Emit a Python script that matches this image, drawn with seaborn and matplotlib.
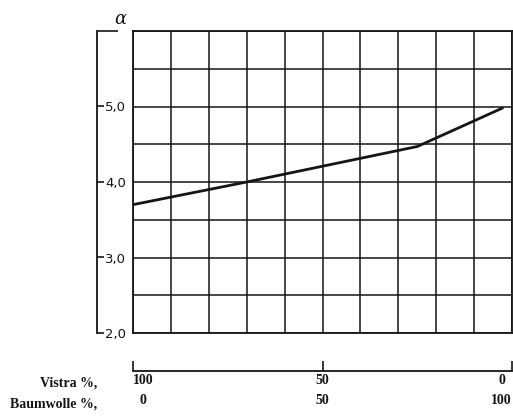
import matplotlib
matplotlib.use("Agg")
import matplotlib.pyplot as plt
import seaborn as sns
import pandas as pd

# ---- data ----
baumwolle_pct = [0, 30, 75, 97.5]
alpha_values = [3.70, 4.00, 4.47, 4.98]
y_ticks = [2.0, 3.0, 4.0, 5.0]
y_tick_labels = ["2,0", "3,0", "4,0", "5,0"]
x_ticks = [0, 50, 100]
vistra_labels = ["100", "50", "0"]
baumwolle_labels = ["0", "50", "100"]

df = pd.DataFrame({"Baumwolle": baumwolle_pct, "alpha": alpha_values})

sns.set_theme(style="white")
plt.rcParams["font.family"] = ["DejaVu Sans"]

W, H = 513, 416
fig = plt.figure(figsize=(W / 100, H / 100), dpi=100)
ax = fig.add_axes([133 / W, (H - 333) / H, (512 - 133) / W, (333 - 31) / H])

ink = "#151515"
sns.lineplot(data=df, x="Baumwolle", y="alpha", ax=ax, color=ink, linewidth=2.0,
             sort=False, estimator=None)

ax.set_xlim(0, 100)
ax.set_ylim(2.0, 6.0)
ax.set_xticks(range(0, 101, 10))
ax.set_yticks([2.0 + 0.5 * i for i in range(9)])
ax.grid(True, color=ink, linewidth=1.1)
ax.tick_params(left=False, bottom=False, labelleft=False, labelbottom=False)
for s in ax.spines.values():
    s.set_visible(True)
    s.set_color(ink)
    s.set_linewidth(1.3)
ax.set_xlabel("")
ax.set_ylabel("")

# offset left axis (scale) with labels to the right of the line
sy = ax.secondary_yaxis(-36 / 379)
sy.spines["left"].set_color(ink)
sy.spines["left"].set_linewidth(1.3)
sy.set_yticks(y_ticks)
sy.set_yticklabels(y_tick_labels)
sy.tick_params(axis="y", direction="in", length=5, width=1.2, color=ink,
               pad=-6, labelsize=9.5, labelcolor=ink)
for lab in sy.get_yticklabels():
    lab.set_horizontalalignment("left")
sy.set_yticks([6.0], minor=True)
sy.tick_params(axis="y", which="minor", direction="in", length=15, width=1.2, color=ink)

# offset bottom axis with two rows of labels
sx = ax.secondary_xaxis(-38 / 302)
sx.spines["bottom"].set_color(ink)
sx.spines["bottom"].set_linewidth(1.3)
sx.set_xticks(x_ticks)
sx.set_xticklabels([f"{v}\n{b}" for v, b in zip(vistra_labels, baumwolle_labels)],
                   family="Liberation Serif", fontsize=10, fontweight="bold",
                   linespacing=1.7, multialignment="center")
sx.tick_params(axis="x", direction="in", length=7, width=1.2, color=ink,
               pad=2, labelcolor=ink)
xl = sx.get_xticklabels()
xl[0].set_horizontalalignment("left")
xl[-1].set_horizontalalignment("right")

fig.text(97 / W, (H - 383) / H, "Vistra %,", ha="right", va="center",
         family="Liberation Serif", fontsize=10, fontweight="bold", color=ink)
fig.text(97 / W, (H - 404) / H, "Baumwolle %,", ha="right", va="center",
         family="Liberation Serif", fontsize=10, fontweight="bold", color=ink)

fig.text(120 / W, (H - 19) / H, "α", ha="center", va="center",
         family="DejaVu Serif", style="italic", fontsize=13, color=ink)

fig.savefig("out.png", dpi=100, facecolor="white")
